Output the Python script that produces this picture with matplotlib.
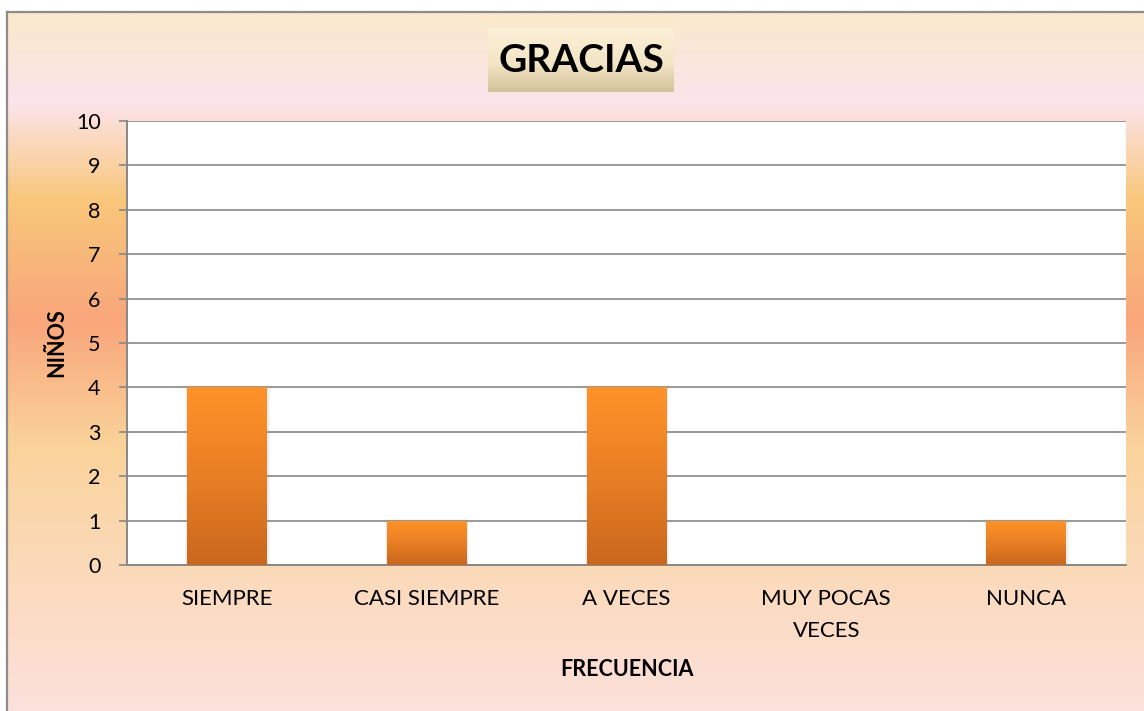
import numpy as np
import matplotlib
matplotlib.use("Agg")
import matplotlib.pyplot as plt
from matplotlib.colors import LinearSegmentedColormap
from matplotlib.patches import Rectangle

# ---- data ----
categories = ["SIEMPRE", "CASI SIEMPRE", "A VECES", "MUY POCAS\nVECES", "NUNCA"]
values = [4, 1, 4, 0, 1]
yticks = list(range(0, 11))
title = "GRACIAS"
ylabel = "NIÑOS"
xlabel = "FRECUENCIA"

FONT = "Lato"
W, H = 1144, 711
fig = plt.figure(figsize=(W / 100, H / 100), dpi=100)
fig.patch.set_facecolor("white")


def px(x, y, w, h):
    """pixel box (top-left origin) -> figure fraction rect"""
    return [x / W, 1 - (y + h) / H, w / W, h / H]


# ---- background frame with gradient ----
top0 = 12
span = H - top0
bg_cmap = LinearSegmentedColormap.from_list(
    "bg",
    [
        (0.0, "#FAE9CB"),
        ((100 - top0) / span, "#FCE4EC"),
        ((197 - top0) / span, "#F8C77A"),
        ((318 - top0) / span, "#F9A67B"),
        ((445 - top0) / span, "#FAD39B"),
        (1.0, "#FCE1DD"),
    ],
)
bg = fig.add_axes(px(7, top0, W - 7 + 5, H - top0 + 5), zorder=0)
bg.imshow(np.linspace(0, 1, 600).reshape(-1, 1), aspect="auto", cmap=bg_cmap,
          extent=(0, 1, 0, 1), interpolation="bilinear")
bg.set_xlim(0, 1)
bg.set_ylim(0, 1)
bg.set_xticks([])
bg.set_yticks([])
for s in ["right", "bottom"]:
    bg.spines[s].set_visible(False)
for s in ["left", "top"]:
    bg.spines[s].set_color("#8C8C8C")
    bg.spines[s].set_linewidth(1.6)

# ---- title box ----
tb = fig.add_axes(px(488, 28, 186, 64), zorder=3)
tb_cmap = LinearSegmentedColormap.from_list(
    "tb", [(0.0, "#FCF0D8"), (0.55, "#F3E5C6"), (1.0, "#D3C39A")])
tb.imshow(np.linspace(0, 1, 200).reshape(-1, 1), aspect="auto", cmap=tb_cmap,
          extent=(0, 1, 0, 1), interpolation="bilinear")
tb.set_xlim(0, 1)
tb.set_ylim(0, 1)
tb.axis("off")
tb.text(0.5, 0.5, title, ha="center", va="center", fontsize=28,
        fontweight="bold", family=FONT, color="black")

# ---- main plot ----
ax = fig.add_axes([127 / W, 1 - 565 / H, (1126 - 127) / W, (565 - 121) / H], zorder=2)
ax.set_facecolor("white")
x = np.arange(len(categories))
bars = ax.bar(x, values, width=0.4, color="none", edgecolor="none", zorder=3)

bar_cmap = LinearSegmentedColormap.from_list(
    "bar", [(0.0, "#FF9329"), (0.5, "#E97F24"), (1.0, "#C9671D")])
grad = np.linspace(0, 1, 256).reshape(-1, 1)
for b in bars:
    h = b.get_height()
    if h <= 0:
        continue
    x0, w = b.get_x(), b.get_width()
    # soft shadow
    for k, a in [(0.022, 0.06), (0.012, 0.08)]:
        sh = Rectangle((x0 - k / 2 + 0.003, 0.0), w + k, h + 0.025 * k / 0.022,
                       facecolor="#7F7F7F", alpha=a, edgecolor="none", zorder=2.5)
        ax.add_patch(sh)
    im = ax.imshow(grad, aspect="auto", cmap=bar_cmap,
                   extent=(x0, x0 + w, 0, h), zorder=3, interpolation="bilinear")
    im.set_clip_path(b)

ax.set_xlim(-0.5, len(categories) - 0.5)
ax.set_ylim(0, 10)
ax.set_aspect("auto")
ax.set_yticks(yticks)
ax.set_xticks(x)
ax.set_xticklabels(categories, family=FONT, fontsize=16, linespacing=1.75)
for lbl in ax.get_yticklabels():
    lbl.set_family(FONT)
    lbl.set_fontsize(15.5)

ax.yaxis.grid(True, color="#878787", linewidth=1.2)
ax.set_axisbelow(True)
for s in ["top", "right"]:
    ax.spines[s].set_visible(False)
for s in ["left", "bottom"]:
    ax.spines[s].set_color("#878787")
    ax.spines[s].set_linewidth(1.4)
ax.tick_params(axis="y", length=6, width=1.2, color="#878787", pad=13)
ax.tick_params(axis="x", length=0, pad=17)

# ---- axis titles ----
fig.text(57 / W, 1 - 343 / H, ylabel, rotation=90, ha="center", va="center",
         fontsize=15.5, fontweight="bold", family=FONT, zorder=5)
fig.text(627 / W, 1 - 670 / H, xlabel, ha="center", va="center",
         fontsize=15.5, fontweight="bold", family=FONT, zorder=5)

fig.savefig("out.png", dpi=100, facecolor=fig.get_facecolor())
